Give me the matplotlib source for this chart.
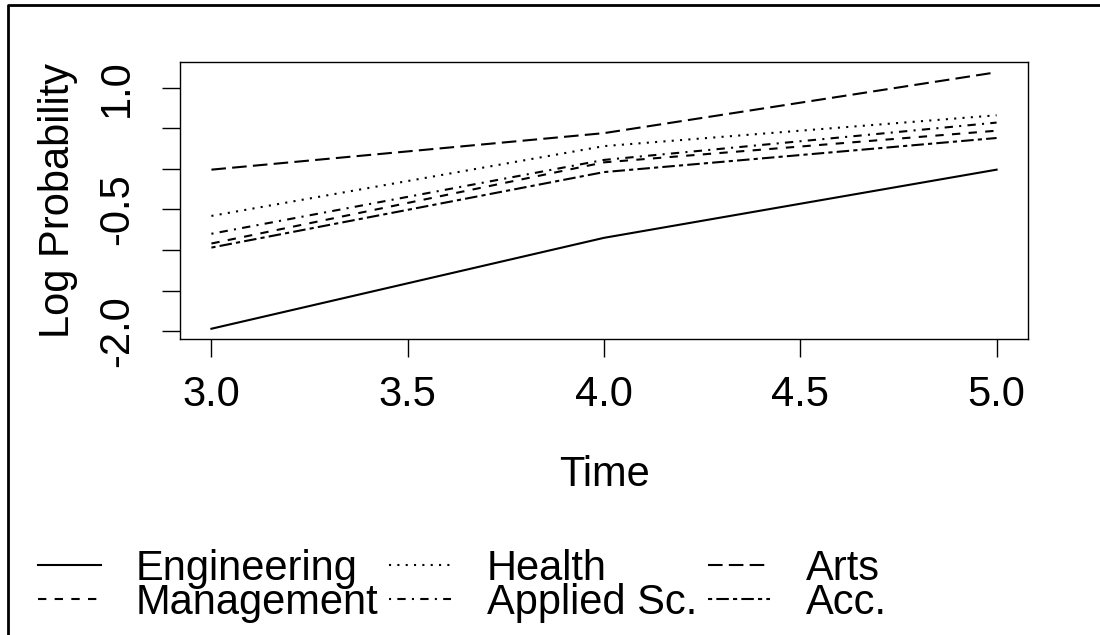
import matplotlib
matplotlib.use('Agg')
import matplotlib.pyplot as plt
from matplotlib.lines import Line2D

plt.rcParams['font.family'] = ['Liberation Sans', 'DejaVu Sans']

# Log probability by time point for each faculty
time = [3, 4, 5]
faculties = ['Engineering', 'Management', 'Health', 'Applied Sc.', 'Arts', 'Acc.']
engineering = [-1.97, -0.85, -0.01]
management = [-0.92, 0.08, 0.47]
health = [-0.58, 0.28, 0.66]
applied_sc = [-0.80, 0.11, 0.57]
arts = [-0.01, 0.44, 1.19]
acc = [-0.97, -0.04, 0.38]

series = [engineering, management, health, applied_sc, arts, acc]
# R's lty 1..6: solid, dashed, dotted, dotdash, longdash, twodash
dash_styles = ['-', (0, (4, 4)), (0, (1, 3)), (0, (1, 3, 4, 3)),
               (0, (7, 3)), (0, (2, 2, 6, 2))]

yticks = [1.0, 0.5, 0.0, -0.5, -1.0, -1.5, -2.0]
ytick_labels = ['1.0', '', '', '-0.5', '', '', '-2.0']
xticks = [3.0, 3.5, 4.0, 4.5, 5.0]

fs = 30
fig = plt.figure(figsize=(11, 6.35), dpi=100)
ax = fig.add_axes([180 / 1100, 1 - 339 / 635, 848 / 1100, 277 / 635])

for vals, ls, name in zip(series, dash_styles, faculties):
    ax.plot(time, vals, color='black', linestyle=ls, linewidth=1.5, label=name)

allv = [v for s in series for v in s]
lo, hi = min(allv), max(allv)
pad = 0.04 * (hi - lo)
ax.set_ylim(lo - pad, hi + pad)
ax.set_xlim(3 - 0.08, 5 + 0.08)

ax.set_xticks(xticks)
ax.set_xticklabels([f'{t:.1f}' for t in xticks], fontsize=fs)
ax.set_yticks(yticks)
ax.set_yticklabels(ytick_labels, fontsize=fs, rotation=90, va='center')
ax.tick_params(axis='both', direction='out', length=13, width=1.0, color='black')
ax.tick_params(axis='x', pad=13)
ax.tick_params(axis='y', pad=18)
for sp in ax.spines.values():
    sp.set_linewidth(1.0)

ax.set_xlabel('Time', fontsize=fs, labelpad=29)
ax.set_ylabel('Log Probability', fontsize=fs, labelpad=14)

handles, labels = ax.get_legend_handles_labels()
fig.legend(handles, labels, ncol=3, frameon=False, fontsize=fs,
           loc='upper left', bbox_to_anchor=(38 / 1100, 1 - 549 / 635),
           handlelength=1.5, handletextpad=0.85, columnspacing=0.25,
           labelspacing=-0.15, borderaxespad=0, borderpad=0)

# outer frame line along the top and left edges
fig.add_artist(Line2D([8 / 1100, 8 / 1100, 1.0], [0.0, 1 - 5 / 635, 1 - 5 / 635],
                      transform=fig.transFigure, color='black', linewidth=2))

fig.savefig('out.png', dpi=100)
